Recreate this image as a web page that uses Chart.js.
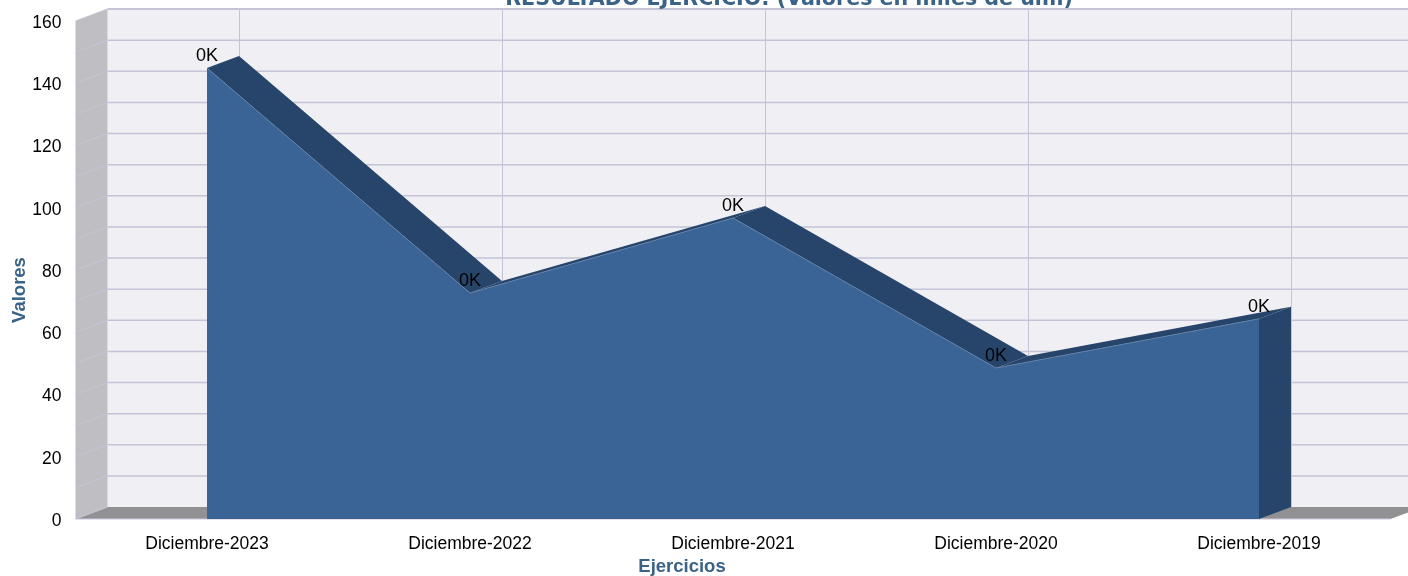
<!DOCTYPE html>
<html>
<head>
<meta charset="utf-8">
<title>Resultado ejercicio</title>
<script src="https://cdn.jsdelivr.net/npm/chart.js@4/dist/chart.umd.min.js"></script>
<style>
  html, body { margin: 0; padding: 0; background: #fff; overflow: hidden; }
  canvas { display: block; }
</style>
</head>
<body>
<canvas id="chart-resultado" width="1408" height="576"></canvas>
<script>
// ── Data
const categories = ['Diciembre-2023', 'Diciembre-2022', 'Diciembre-2021', 'Diciembre-2020', 'Diciembre-2019'];
const valores = [144.9, 72.6, 96.7, 48.5, 64.3];
const pointLabels = ['0K', '0K', '0K', '0K', '0K'];
const titleText = 'RESULTADO EJERCICIO: (Valores en miles de ulm)';
const xTitle = 'Ejercicios';
const yTitle = 'Valores';

// ── Look
const DEPTH_X = 32, DEPTH_Y = -12;
const FONT = '"Liberation Sans", Arial, sans-serif';
const BLUE = '#3a6496', BLUE_DARK = '#27456b', TITLE_BLUE = '#3b6388';
const GRID = '#c4c3d8';

function poly(ctx, pts, fill) {
  ctx.beginPath();
  pts.forEach((p, i) => i ? ctx.lineTo(p[0], p[1]) : ctx.moveTo(p[0], p[1]));
  ctx.closePath();
  ctx.fillStyle = fill;
  ctx.fill();
}

function seg(ctx, x1, y1, x2, y2, color, w) {
  ctx.beginPath();
  ctx.moveTo(x1, y1);
  ctx.lineTo(x2, y2);
  ctx.strokeStyle = color;
  ctx.lineWidth = w || 1;
  ctx.stroke();
}

// back wall, side wall, floor and the extruded top of the area
const box3d = {
  id: 'box3d',
  beforeDatasetsDraw(chart) {
    const { ctx, chartArea: a, scales: { x, y } } = chart;
    const W = chart.width;
    ctx.save();
    const backL = a.left + DEPTH_X, backT = a.top + DEPTH_Y, backB = a.bottom + DEPTH_Y;

    poly(ctx, [[backL, backT], [W, backT], [W, backB], [backL, backB]], '#f0eff4');
    poly(ctx, [[a.left, a.top], [backL, backT], [backL, backB], [a.left, a.bottom]], '#bfbec3');
    poly(ctx, [[a.left, a.bottom], [backL, backB], [W, backB], [W, a.bottom + DEPTH_Y * (W - a.right) / DEPTH_X], [a.right, a.bottom]], '#919092');

    y.ticks.forEach(t => {
      const py = y.getPixelForValue(t.value);
      if (t.value > 0) seg(ctx, backL, py + DEPTH_Y, W, py + DEPTH_Y, GRID, t.value === 160 ? 2 : 1.5);
      seg(ctx, a.left, py, backL, py + DEPTH_Y, '#c6c5d6');
    });
    categories.forEach((c, i) => {
      const px = Math.round(x.getPixelForValue(i) + DEPTH_X) + 0.5;
      seg(ctx, px, backT, px, backB, GRID);
    });
    seg(ctx, a.left, a.bottom, a.right, a.bottom, '#c9c8dc');

    // extruded band along the top of the area, then the end face
    const pts = chart.getDatasetMeta(0).data;
    for (let i = 0; i < pts.length - 1; i++) {
      const p = pts[i], q = pts[i + 1];
      poly(ctx, [[p.x, p.y], [p.x + DEPTH_X, p.y + DEPTH_Y], [q.x + DEPTH_X, q.y + DEPTH_Y], [q.x, q.y]], BLUE_DARK);
    }
    const last = pts[pts.length - 1];
    poly(ctx, [[last.x, last.y], [last.x + DEPTH_X, last.y + DEPTH_Y], [last.x + DEPTH_X, a.bottom + DEPTH_Y], [last.x, a.bottom]], BLUE_DARK);
    ctx.restore();
  },
  afterDatasetsDraw(chart) {
    const { ctx, scales: { x, y } } = chart;
    ctx.save();
    ctx.fillStyle = '#000';
    ctx.font = '18px ' + FONT;
    ctx.textAlign = 'center';
    ctx.textBaseline = 'middle';
    valores.forEach((v, i) => ctx.fillText(pointLabels[i], x.getPixelForValue(i), y.getPixelForValue(v) - 12));

    // title runs off the top edge in the original
    ctx.fillStyle = TITLE_BLUE;
    ctx.font = 'bold 20.6px "DejaVu Sans", Verdana, sans-serif';
    ctx.textBaseline = 'alphabetic';
    ctx.fillText(titleText, 789, 5);

    ctx.font = 'bold 18.5px ' + FONT;
    ctx.textBaseline = 'middle';
    ctx.fillText(xTitle, 682, 567);
    ctx.translate(20, 290);
    ctx.rotate(-Math.PI / 2);
    ctx.fillText(yTitle, 0, 0);
    ctx.restore();
  }
};

new Chart(document.getElementById('chart-resultado'), {
  type: 'line',
  data: {
    labels: categories,
    datasets: [{
      label: 'Valores',
      data: valores,
      fill: 'origin',
      backgroundColor: BLUE,
      borderColor: '#5f80a8',
      borderWidth: 1,
      pointRadius: 0,
      tension: 0,
    }]
  },
  options: {
    responsive: false,
    animation: false,
    layout: { padding: { top: 21, right: 17.5, bottom: 0, left: 0 } },
    plugins: { legend: { display: false }, tooltip: { enabled: false } },
    scales: {
      x: {
        offset: true,
        afterFit: s => { s.height = 57; s.paddingLeft = 0; s.paddingRight = 0; },
        grid: { display: false, drawTicks: false },
        border: { display: false },
        ticks: { color: '#000', font: { family: FONT, size: 17.5 }, padding: 15, maxRotation: 0 },
      },
      y: {
        min: 0,
        max: 160,
        afterFit: s => { s.width = 75.5; s.paddingTop = 0; s.paddingBottom = 0; },
        grid: { display: false, drawTicks: false },
        border: { display: false },
        ticks: {
          stepSize: 10,
          autoSkip: false,
          color: '#000',
          padding: 14,
          labelOffset: 2,
          font: { family: FONT, size: 17.5 },
          callback: v => (v % 20 === 0 ? v : ''),
        },
      },
    },
  },
  plugins: [box3d],
});
</script>
</body>
</html>
